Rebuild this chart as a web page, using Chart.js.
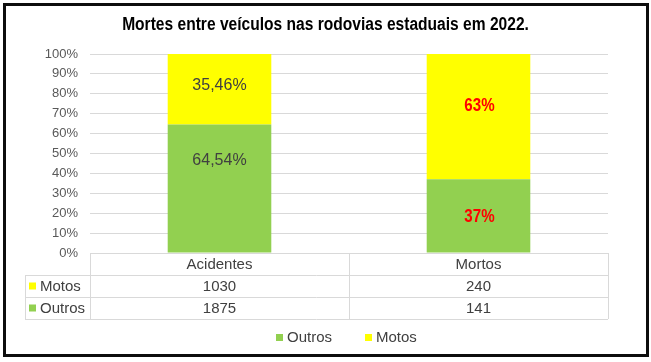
<!DOCTYPE html>
<html>
<head>
<meta charset="utf-8">
<script src="https://cdn.jsdelivr.net/npm/chart.js@4.4.1/dist/chart.umd.min.js"></script>
<style>
  html, body { margin: 0; padding: 0; background: #fff; }
  #wrap { width: 651px; height: 362px; position: relative; }
</style>
</head>
<body>
<div id="wrap"><canvas id="c" width="651" height="362"></canvas></div>
<script>
// ---- data ----
const chartTitle = 'Mortes entre veículos nas rodovias estaduais em 2022.';
const categories = ['Acidentes', 'Mortos'];
const motos = [1030, 240];
const outros = [1875, 141];
const pctLabelsOutros = ['64,54%', '37%'];
const pctLabelsMotos = ['35,46%', '63%'];
const yTicks = [0, 10, 20, 30, 40, 50, 60, 70, 80, 90, 100];

// ---- derived (100% stacked) ----
const totals = categories.map((_, i) => motos[i] + outros[i]);
const outrosPct = outros.map((v, i) => v / totals[i] * 100);
const motosPct = motos.map((v, i) => v / totals[i] * 100);

// ---- style ----
const GREEN = '#92D050', YELLOW = '#FFFF00', GRID = '#D9D9D9', TXT = '#404040';
const FONT = 'Arial, "Liberation Sans", sans-serif';
const NARROW_SCALE = 0.84;  // emulate a condensed (Arial Narrow-like) face
const TITLE_SCALE = 0.865;
// data-label anchor heights (in % units of the y scale) and styles
const labelStyle = {
  Outros: { at: [46.5, 18.2], color: [TXT, '#FF0000'], bold: [false, true] },
  Motos:  { at: [84.3, 73.9], color: [TXT, '#FF0000'], bold: [false, true] }
};

function narrowText(ctx, text, cx, cy, sx) {
  ctx.save();
  ctx.translate(cx, cy);
  ctx.scale(sx, 1);
  ctx.fillText(text, 0, 0);
  ctx.restore();
}

const decor = {
  id: 'decor',
  beforeDraw(chart) {
    const ctx = chart.ctx;
    ctx.save();
    ctx.fillStyle = '#fff';
    ctx.fillRect(0, 0, chart.width, chart.height);
    ctx.restore();
  },
  afterDatasetsDraw(chart) {
    const ctx = chart.ctx;
    const x = chart.scales.x, y = chart.scales.y;
    const ca = chart.chartArea;
    ctx.save();
    // data labels
    ctx.textAlign = 'center';
    ctx.textBaseline = 'middle';
    const sets = [['Outros', pctLabelsOutros], ['Motos', pctLabelsMotos]];
    sets.forEach(([name, labels]) => {
      const st = labelStyle[name];
      labels.forEach((t, i) => {
        ctx.fillStyle = st.color[i];
        if (st.bold[i]) {
          ctx.font = 'bold 18px ' + FONT;
          narrowText(ctx, t, x.getPixelForValue(i) + 1, y.getPixelForValue(st.at[i]), NARROW_SCALE);
        } else {
          ctx.font = '16px ' + FONT;
          ctx.fillText(t, x.getPixelForValue(i), y.getPixelForValue(st.at[i]));
        }
      });
    });

    // title
    ctx.fillStyle = '#000';
    ctx.font = 'bold 18px ' + FONT;
    narrowText(ctx, chartTitle, chart.width / 2, 25, TITLE_SCALE);

    // data table
    const L = ca.left, R = ca.right, T = ca.bottom;
    const rowH = 22;
    const labL = 25;
    ctx.strokeStyle = GRID;
    ctx.lineWidth = 1;
    const hl = (x1, x2, yy) => { ctx.beginPath(); ctx.moveTo(x1, yy + 0.5); ctx.lineTo(x2, yy + 0.5); ctx.stroke(); };
    const vl = (xx, y1, y2) => { ctx.beginPath(); ctx.moveTo(xx + 0.5, y1); ctx.lineTo(xx + 0.5, y2); ctx.stroke(); };
    hl(L, R, T);
    hl(labL, R, T + rowH);
    hl(labL, R, T + 2 * rowH);
    hl(labL, R, T + 3 * rowH);
    vl(L, T, T + 3 * rowH);
    vl(R, T, T + 3 * rowH);
    vl(labL, T + rowH, T + 3 * rowH);
    const mid = (x.getPixelForValue(0) + x.getPixelForValue(1)) / 2;
    vl(Math.round(mid), T, T + 3 * rowH);

    ctx.fillStyle = TXT;
    ctx.font = '15px ' + FONT;
    ctx.textAlign = 'center';
    categories.forEach((c, i) => ctx.fillText(c, x.getPixelForValue(i), T + rowH / 2 + 1));
    motos.forEach((v, i) => ctx.fillText(String(v), x.getPixelForValue(i), T + rowH * 1.5 + 1));
    outros.forEach((v, i) => ctx.fillText(String(v), x.getPixelForValue(i), T + rowH * 2.5 + 1));
    // row headers
    ctx.textAlign = 'left';
    ctx.fillStyle = YELLOW; ctx.fillRect(29, T + rowH * 1.5 - 3.5, 7, 7);
    ctx.fillStyle = GREEN;  ctx.fillRect(29, T + rowH * 2.5 - 3.5, 7, 7);
    ctx.fillStyle = TXT;
    ctx.fillText('Motos', 40, T + rowH * 1.5 + 1);
    ctx.fillText('Outros', 40, T + rowH * 2.5 + 1);

    // legend
    const ly = 338;
    ctx.fillStyle = GREEN;  ctx.fillRect(276, ly - 4, 7, 7);
    ctx.fillStyle = YELLOW; ctx.fillRect(365, ly - 4, 7, 7);
    ctx.fillStyle = TXT;
    ctx.fillText('Outros', 287, ly);
    ctx.fillText('Motos', 376, ly);

    // outer border
    ctx.strokeStyle = '#0d0d0d';
    ctx.lineWidth = 3;
    ctx.strokeRect(4.5, 4.5, 643, 351);
    ctx.restore();
  }
};

new Chart(document.getElementById('c'), {
  type: 'bar',
  data: {
    labels: categories,
    datasets: [
      { label: 'Outros', data: outrosPct, backgroundColor: GREEN, categoryPercentage: 0.4, barPercentage: 1 },
      { label: 'Motos', data: motosPct, backgroundColor: YELLOW, categoryPercentage: 0.4, barPercentage: 1 }
    ]
  },
  options: {
    responsive: false,
    animation: false,
    layout: { padding: { top: 54, right: 43, bottom: 109, left: 0 } },
    plugins: { legend: { display: false }, title: { display: false }, tooltip: { enabled: false } },
    scales: {
      x: { stacked: true, display: false },
      y: {
        stacked: true, min: 0, max: 100,
        afterFit(s) { s.width = 90; },
        afterBuildTicks(s) { s.ticks = yTicks.map(v => ({ value: v })); },
        border: { display: false },
        grid: { color: GRID, drawTicks: false },
        ticks: { padding: 12, color: '#595959', font: { family: FONT, size: 13 }, callback: v => v + '%' }
      }
    }
  },
  plugins: [decor]
});
</script>
</body>
</html>
